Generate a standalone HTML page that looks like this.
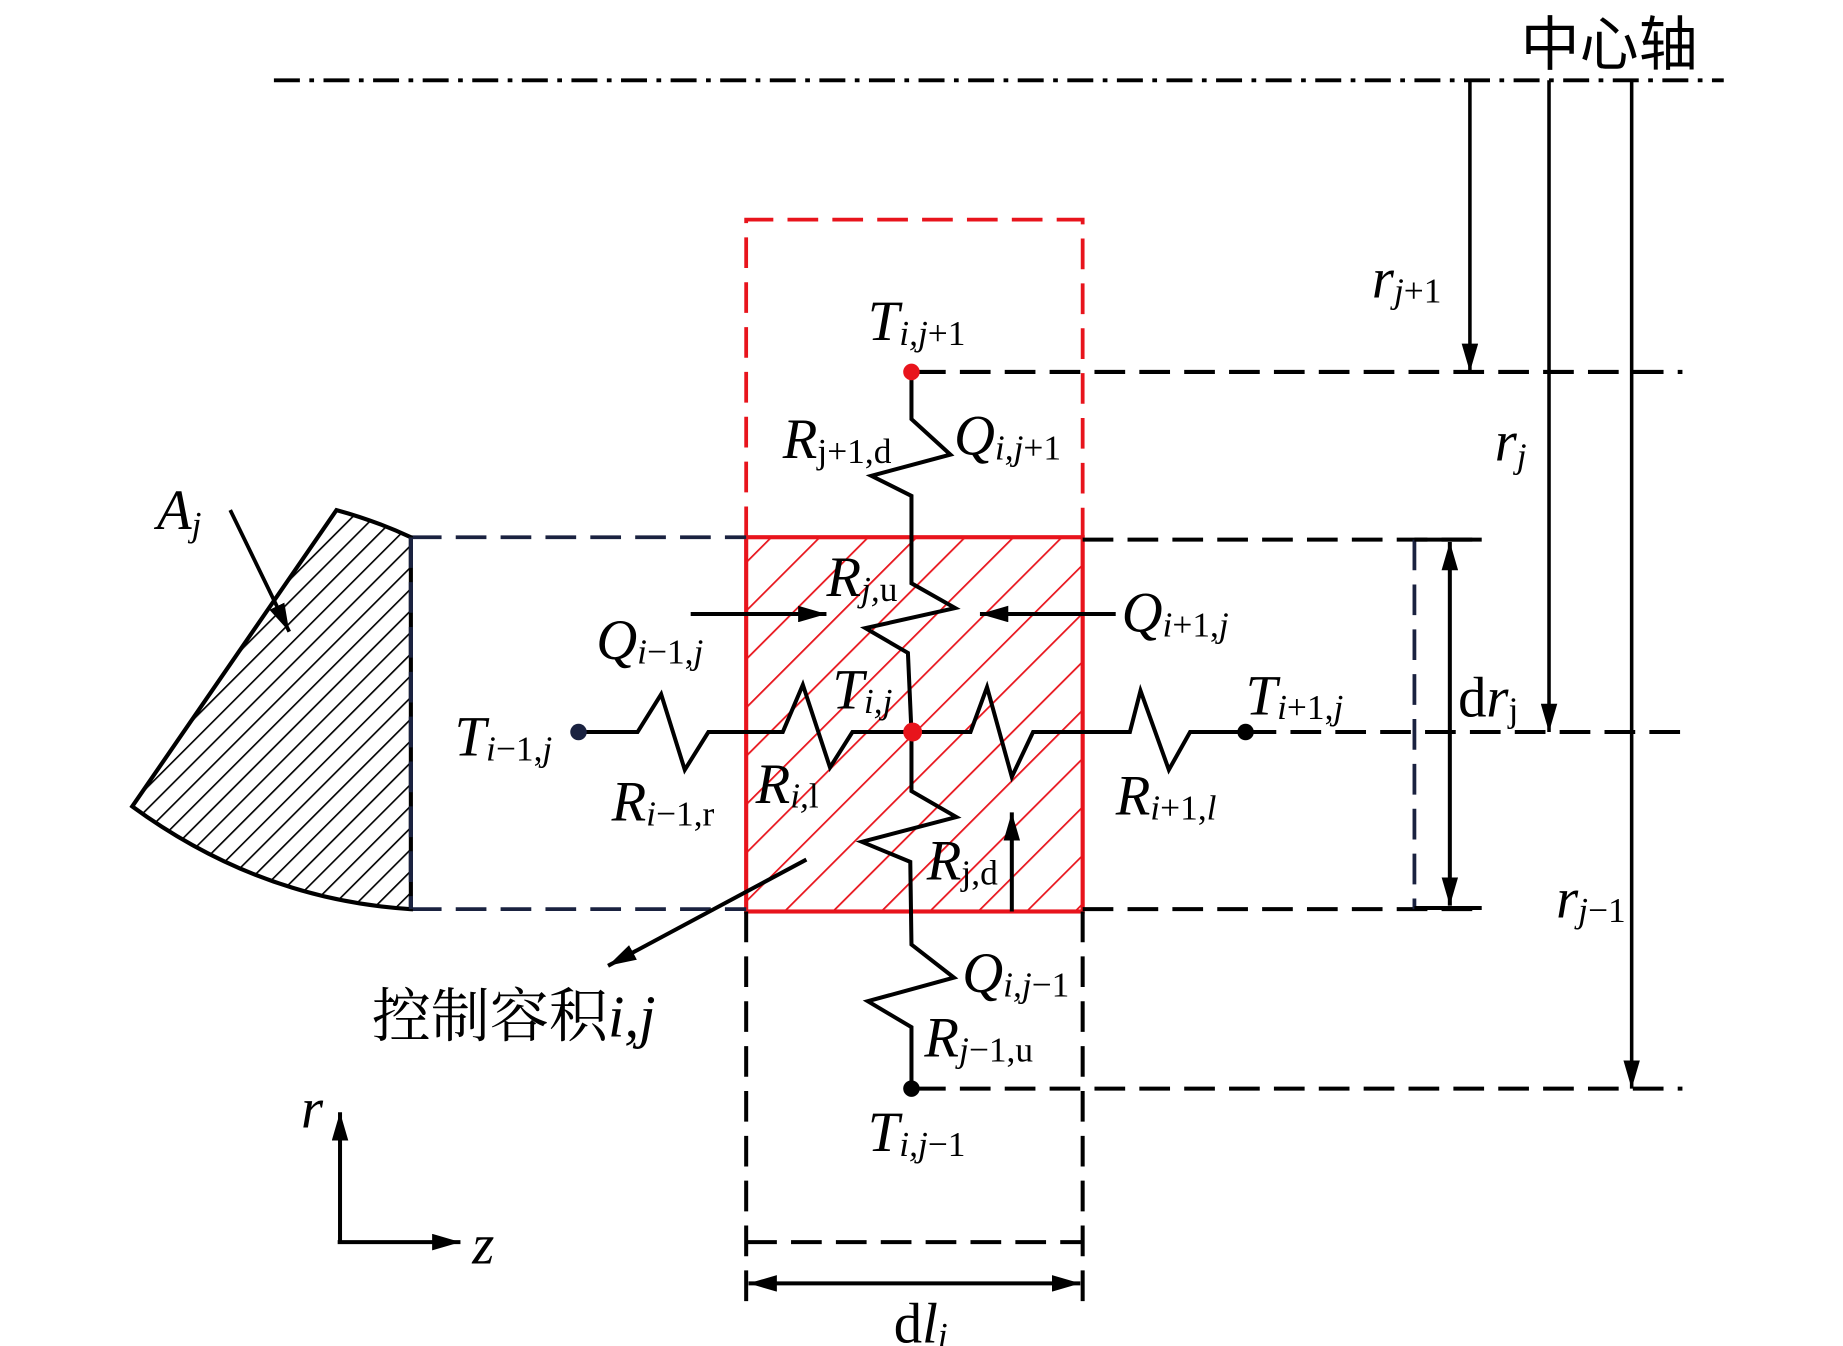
<!DOCTYPE html>
<html><head><meta charset="utf-8"><style>
html,body{margin:0;padding:0;background:#fff;}
svg{display:block;}
text{font-family:"Liberation Serif","Noto Serif CJK SC",serif;fill:#000;}
.it{font-style:italic;}
</style></head><body>
<svg width="1843" height="1346" viewBox="0 0 1561 1140" xmlns="http://www.w3.org/2000/svg">
<defs>
<pattern id="rh" patternUnits="userSpaceOnUse" width="29" height="29" patternTransform="rotate(45)">
<line x1="0" y1="0" x2="0" y2="29" stroke="#e8141c" stroke-width="3"/>
</pattern>
<pattern id="bh" patternUnits="userSpaceOnUse" width="13" height="13" patternTransform="rotate(45)">
<line x1="0" y1="0" x2="0" y2="13" stroke="#000" stroke-width="2.8"/>
</pattern>
<marker id="ar2" viewBox="0 0 10 10" refX="10" refY="5" markerWidth="24" markerHeight="14" markerUnits="userSpaceOnUse" orient="auto-start-reverse" preserveAspectRatio="none">
<path d="M0,0 L10,5 L0,10 Z" fill="#000"/>
</marker>
</defs>

<line x1="232" y1="68" x2="1460" y2="68" stroke="#000" stroke-width="3.2" stroke-dasharray="22,8,4,8"/>
<text x="1288" y="55" font-size="50" style="font-family:'Noto Sans CJK SC',sans-serif">中心轴</text>

<g stroke="#000" stroke-width="3">
<line x1="1245" y1="68" x2="1245" y2="315" marker-end="url(#ar2)"/>
<line x1="1312" y1="68" x2="1312" y2="620" marker-end="url(#ar2)"/>
<line x1="1382" y1="68" x2="1382" y2="922" marker-end="url(#ar2)"/>
</g>

<path d="M632,455 V186 H917 V455" fill="none" stroke="#e8141c" stroke-width="3.2" stroke-dasharray="26,12"/>
<rect x="632" y="455" width="285" height="317" fill="url(#rh)" stroke="#e8141c" stroke-width="3.5"/>

<g stroke="#000" stroke-width="3.4" stroke-dasharray="26,12" fill="none">
<line x1="775" y1="315" x2="1425" y2="315"/>
<line x1="917" y1="457" x2="1255" y2="457"/>
<line x1="1055" y1="620" x2="1425" y2="620"/>
<line x1="917" y1="770" x2="1255" y2="770"/>
<line x1="775" y1="922" x2="1425" y2="922"/>
<line x1="632" y1="772" x2="632" y2="1110"/>
<line x1="917" y1="772" x2="917" y2="1110"/>
<line x1="632" y1="1052" x2="917" y2="1052"/>
</g>
<g stroke="#1a2240" stroke-width="3.2" stroke-dasharray="26,12" fill="none">
<line x1="348" y1="455" x2="632" y2="455"/>
<line x1="348" y1="770" x2="632" y2="770"/>
<line x1="1198" y1="457" x2="1198" y2="770"/>
</g>
<line x1="1198" y1="457" x2="1255" y2="457" stroke="#000" stroke-width="3.4"/>
<line x1="1198" y1="769" x2="1255" y2="769" stroke="#000" stroke-width="3.4"/>
<line x1="1228" y1="459" x2="1228" y2="767" stroke="#000" stroke-width="3.4" marker-start="url(#ar2)" marker-end="url(#ar2)"/>
<line x1="634" y1="1087" x2="915" y2="1087" stroke="#000" stroke-width="3.4" marker-start="url(#ar2)" marker-end="url(#ar2)"/>

<path d="M285,432 Q318,441 348,455 V770 Q220,762 112,683 Z" fill="url(#bh)" stroke="#000" stroke-width="3.5"/>
<line x1="348" y1="455" x2="348" y2="770" stroke="#1a2240" stroke-width="3.5" stroke-dasharray="26,12"/>
<line x1="195" y1="432" x2="245" y2="535" stroke="#000" stroke-width="3.2" marker-end="url(#ar2)"/>

<g stroke="#000" stroke-width="3.4" fill="none">
<polyline points="772,315 772,355 805,385 738,403 772,420 772,494 809,515 733,532 769,553 772,620 772,670 810,692 730,713 771,730 772,800 808,828 735,848 772,870 772,922"/>
<polyline points="490,620 540,620 560,588 580,652 600,620 663,620 680,580 703,650 722,620 822,620 836,582 857,658 875,620 957,620 966,585 990,652 1008,620 1055,620"/>
<line x1="585" y1="520" x2="700" y2="520" marker-end="url(#ar2)"/>
<line x1="945" y1="520" x2="830" y2="520" marker-end="url(#ar2)"/>
<line x1="857" y1="772" x2="857" y2="688" marker-end="url(#ar2)"/>
<line x1="683" y1="728" x2="515" y2="818" marker-end="url(#ar2)"/>
<line x1="288" y1="1052" x2="288" y2="942" marker-end="url(#ar2)"/>
<line x1="286" y1="1052" x2="390" y2="1052" marker-end="url(#ar2)"/>
</g>

<circle cx="772" cy="315" r="7" fill="#e8141c"/>
<circle cx="773" cy="620" r="8" fill="#e8141c"/>
<circle cx="490" cy="620" r="7" fill="#1a2240"/>
<circle cx="1055" cy="620" r="7" fill="#000"/>
<circle cx="772" cy="922" r="7" fill="#000"/>

<g font-size="48">
<text x="1162" y="252" class="it">r<tspan font-size="30" dy="4">j</tspan><tspan font-size="30" font-style="normal">+1</tspan></text>
<text x="1266" y="390" class="it">r<tspan font-size="30" dy="6">j</tspan></text>
<text x="1318" y="777" class="it">r<tspan font-size="30" dy="4">j</tspan><tspan font-size="30" font-style="normal">−1</tspan></text>
<text x="735" y="288" class="it">T<tspan font-size="30" dy="4">i,j</tspan><tspan font-size="30" font-style="normal">+1</tspan></text>
<text x="663" y="388" class="it">R<tspan font-size="30" dy="4" font-style="normal">j+1,d</tspan></text>
<text x="808" y="385" class="it">Q<tspan font-size="30" dy="4">i,j</tspan><tspan font-size="30" font-style="normal">+1</tspan></text>
<text x="133" y="448" class="it">A<tspan font-size="30" dy="6">j</tspan></text>
<text x="700" y="505" class="it">R<tspan font-size="30" dy="4">j,</tspan><tspan font-size="30" font-style="normal">u</tspan></text>
<text x="505" y="558" class="it">Q<tspan font-size="30" dy="4">i</tspan><tspan font-size="30" font-style="normal">−1,</tspan><tspan font-size="30">j</tspan></text>
<text x="950" y="535" class="it">Q<tspan font-size="30" dy="4">i</tspan><tspan font-size="30" font-style="normal">+1,</tspan><tspan font-size="30">j</tspan></text>
<text x="385" y="640" class="it">T<tspan font-size="30" dy="4">i</tspan><tspan font-size="30" font-style="normal">−1,</tspan><tspan font-size="30">j</tspan></text>
<text x="705" y="600" class="it">T<tspan font-size="30" dy="4">i,j</tspan></text>
<text x="1055" y="605" class="it">T<tspan font-size="30" dy="4">i</tspan><tspan font-size="30" font-style="normal">+1,</tspan><tspan font-size="30">j</tspan></text>
<text x="1235" y="607">d<tspan class="it">r</tspan><tspan font-size="30" dy="4">j</tspan></text>
<text x="640" y="680" class="it">R<tspan font-size="30" dy="4">i,</tspan><tspan font-size="30" font-style="normal">l</tspan></text>
<text x="518" y="695" class="it">R<tspan font-size="30" dy="4">i</tspan><tspan font-size="30" font-style="normal">−1,r</tspan></text>
<text x="945" y="690" class="it">R<tspan font-size="30" dy="4">i</tspan><tspan font-size="30" font-style="normal">+1,</tspan><tspan font-size="30">l</tspan></text>
<text x="785" y="745" class="it">R<tspan font-size="30" dy="4" font-style="normal">j,d</tspan></text>
<text x="815" y="840" class="it">Q<tspan font-size="30" dy="4">i,j</tspan><tspan font-size="30" font-style="normal">−1</tspan></text>
<text x="783" y="895" class="it">R<tspan font-size="30" dy="4">j</tspan><tspan font-size="30" font-style="normal">−1,u</tspan></text>
<text x="735" y="975" class="it">T<tspan font-size="30" dy="4">i,j</tspan><tspan font-size="30" font-style="normal">−1</tspan></text>
<text x="255" y="955" class="it">r</text>
<text x="400" y="1070" class="it">z</text>
<text x="757" y="1137">d<tspan class="it">l</tspan><tspan font-size="30" dy="4" class="it">i</tspan></text>
</g>
<text x="315" y="878" font-size="50" style="font-family:'Noto Serif CJK SC',serif">控制容积<tspan font-family="Liberation Serif" font-style="italic">i,j</tspan></text>
</svg>
</body></html>
